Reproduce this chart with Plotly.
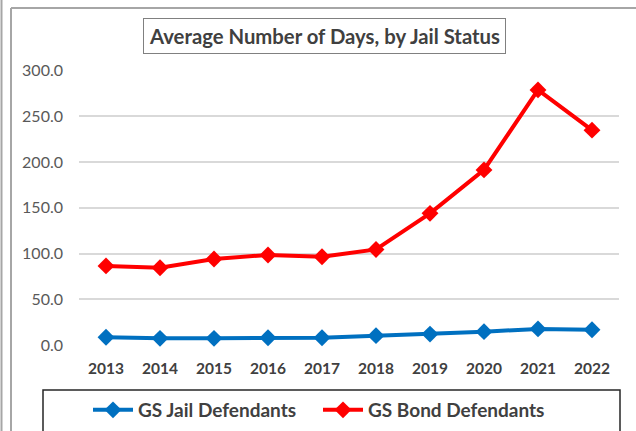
import plotly.graph_objects as go

years = ["2013", "2014", "2015", "2016", "2017", "2018", "2019", "2020", "2021", "2022"]
jail_days = [8.4, 7.3, 7.3, 8.0, 8.0, 10.2, 11.9, 14.6, 17.6, 16.7]
bond_days = [86.5, 84.5, 94.0, 98.5, 96.5, 104.5, 144.0, 191.5, 279.0, 235.0]
y_ticks = [0, 50, 100, 150, 200, 250, 300]
y_tick_text = ["0.0", "50.0", "100.0", "150.0", "200.0", "250.0", "300.0"]

W, H = 636, 431
FONT = "Lato"

def px(x):
    return x / W

def py(y):
    return 1 - y / H

fig = go.Figure()
fig.add_trace(go.Scatter(
    x=years, y=jail_days, name="GS Jail Defendants", mode="lines+markers",
    line=dict(color="#0070C0", width=4),
    marker=dict(symbol="diamond", size=13, color="#0070C0"),
    cliponaxis=False,
))
fig.add_trace(go.Scatter(
    x=years, y=bond_days, name="GS Bond Defendants", mode="lines+markers",
    line=dict(color="#FF0000", width=4),
    marker=dict(symbol="diamond", size=13, color="#FF0000"),
    cliponaxis=False,
))

fig.update_layout(
    width=W, height=H,
    margin=dict(l=0, r=0, t=0, b=0),
    paper_bgcolor="white", plot_bgcolor="white",
    font=dict(family=FONT, color="#595959"),
    showlegend=True,
    legend=dict(
        orientation="h", x=px(88), xanchor="left", y=py(410), yanchor="middle",
        font=dict(family=FONT, size=19, color="#404040", weight="bold"),
        itemwidth=40, tracegroupgap=0, entrywidth=175,
    ),
    xaxis=dict(
        domain=[px(79), px(619)], range=[-0.5, 9.5], type="category",
        showgrid=False, zeroline=False, showline=False, ticks="",
        ticklabelstandoff=12,
        tickfont=dict(family=FONT, size=15.5, color="#404040", weight="bold"),
        automargin=False, anchor="y",
    ),
    yaxis=dict(
        domain=[py(345), py(70.7)], range=[0, 300],
        tickvals=y_ticks, ticktext=y_tick_text,
        showgrid=True, gridcolor="#D9D9D9", gridwidth=1.5,
        zeroline=False, showline=False, ticks="", ticklabelstandoff=15,
        tickfont=dict(family=FONT, size=16, color="#595959"),
        automargin=False,
    ),
    annotations=[dict(
        text="<b>Average Number of Days, by Jail Status</b>",
        xref="paper", yref="paper", x=px(324), y=py(36),
        xanchor="center", yanchor="middle", showarrow=False,
        font=dict(family=FONT, size=20.3, color="#404040"),
        bordercolor="#808080", borderwidth=1, borderpad=5, bgcolor="white",
    )],
    shapes=[
        dict(type="line", xref="paper", yref="paper", x0=px(1.5), x1=px(1.5), y0=0, y1=1,
             line=dict(color="#A6A6A6", width=2)),
        dict(type="line", xref="paper", yref="paper", x0=px(11), x1=1.01, y0=py(8), y1=py(8),
             line=dict(color="#A6A6A6", width=2)),
        dict(type="line", xref="paper", yref="paper", x0=px(11), x1=px(11), y0=-0.01, y1=py(8),
             line=dict(color="#A6A6A6", width=2)),
        dict(type="rect", xref="paper", yref="paper", x0=px(43), x1=px(620), y0=-0.05, y1=py(390),
             line=dict(color="#262626", width=1.5), layer="below"),
    ],
)

fig.write_html(
    "out.html",
    config={"displayModeBar": False},
    post_script="document.body.style.margin='0';document.body.style.overflow='hidden';",
)
